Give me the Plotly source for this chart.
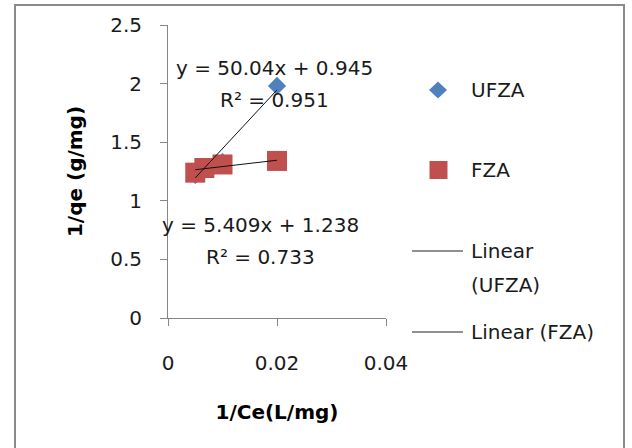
import plotly.graph_objects as go

# Reciprocal (Langmuir-type) data for the two adsorbents
inv_ce = [0.005, 0.00667, 0.01, 0.02]          # 1/Ce (L/mg)
ufza_inv_qe = [1.22, 1.26, 1.33, 1.98]         # 1/qe (g/mg), UFZA
fza_inv_qe = [1.24, 1.28, 1.31, 1.34]          # 1/qe (g/mg), FZA

# Linear fits as reported on the chart
ufza_fit = {"slope": 50.04, "intercept": 0.945, "r2": 0.951}
fza_fit = {"slope": 5.409, "intercept": 1.238, "r2": 0.733}

x_ticks = [0, 0.02, 0.04]
y_ticks = [0, 0.5, 1, 1.5, 2, 2.5]

BLUE = "#4F81BD"
RED = "#C0504D"
FONT = "DejaVu Sans"
TXT = "#1a1a1a"

W, H = 632, 448
M = dict(l=168, r=246, t=25, b=130)
PW = W - M["l"] - M["r"]
PH = H - M["t"] - M["b"]


def px(xp):
    """Horizontal pixel -> paper fraction."""
    return (xp - M["l"]) / PW


def py(yp):
    """Vertical pixel (from top) -> paper fraction."""
    return (H - M["b"] - yp) / PH


fit_x = [min(inv_ce), max(inv_ce)]


def fit_line(fit):
    return [fit["slope"] * v + fit["intercept"] for v in fit_x]


fig = go.Figure()
fig.add_trace(go.Scatter(
    x=inv_ce, y=ufza_inv_qe, mode="markers", name="UFZA",
    marker=dict(symbol="diamond", size=14, color=BLUE, line=dict(width=0)),
))
fig.add_trace(go.Scatter(
    x=inv_ce, y=fza_inv_qe, mode="markers", name="FZA",
    marker=dict(symbol="square", size=20, color=RED, line=dict(width=0)),
))
fig.add_trace(go.Scatter(
    x=fit_x, y=fit_line(ufza_fit), mode="lines", name="Linear (UFZA)",
    line=dict(color="#111111", width=1),
))
fig.add_trace(go.Scatter(
    x=fit_x, y=fit_line(fza_fit), mode="lines", name="Linear (FZA)",
    line=dict(color="#111111", width=1),
))


def eq_text(fit):
    return f"y = {fit['slope']:g}x + {fit['intercept']:g}"


labels = [
    (eq_text(ufza_fit), 0.01963, 2.133),
    (f"R² = {ufza_fit['r2']:g}", 0.01963, 1.86),
    (eq_text(fza_fit), 0.01697, 0.794),
    (f"R² = {fza_fit['r2']:g}", 0.01690, 0.52),
]
for text, ax_x, ax_y in labels:
    fig.add_annotation(x=ax_x, y=ax_y, xref="x", yref="y", text=text,
                       showarrow=False, font=dict(size=20, color=TXT, family=FONT))

# Legend (drawn beside the plot area)
legend_font = dict(size=20, color=TXT, family=FONT)
fig.add_shape(type="path", xref="paper", yref="paper",
              xsizemode="pixel", ysizemode="pixel",
              xanchor=px(438), yanchor=py(90),
              path="M -9 0 L 0 8.5 L 9 0 L 0 -8.5 Z",
              fillcolor=BLUE, line=dict(width=0))
fig.add_shape(type="rect", xref="paper", yref="paper",
              xsizemode="pixel", ysizemode="pixel",
              xanchor=px(438.5), yanchor=py(170),
              x0=-9, x1=9, y0=-9, y1=9,
              fillcolor=RED, line=dict(width=0))
for yl in (251, 332):
    fig.add_shape(type="line", xref="paper", yref="paper",
                  x0=px(412), x1=px(463), y0=py(yl), y1=py(yl),
                  line=dict(color="#222222", width=1.2))
legend_text = [("UFZA", 90), ("FZA", 170), ("Linear", 251), ("(UFZA)", 285),
               ("Linear (FZA)", 332)]
for text, yl in legend_text:
    fig.add_annotation(x=px(469), y=py(yl), xref="paper", yref="paper",
                       xanchor="left", yanchor="middle", text=text,
                       showarrow=False, font=legend_font)

# Chart frame
fig.add_shape(type="rect", xref="paper", yref="paper",
              x0=px(15), x1=px(624), y0=py(470), y1=py(5),
              line=dict(color="#8a8a8a", width=2))

axis_common = dict(
    showgrid=False, zeroline=False, showline=True,
    linecolor="#868686", linewidth=1, ticks="outside", ticklen=7,
    tickcolor="#868686", tickfont=dict(size=20, color=TXT, family=FONT),
)

fig.update_xaxes(
    range=[0, 0.04], tickvals=x_ticks, ticktext=["0", "0.02", "0.04"],
    ticklabelstandoff=20,
    title=dict(text="<b>1/Ce(L/mg)</b>", font=dict(size=20, color="#000", family=FONT),
               standoff=30),
    **axis_common,
)
fig.update_yaxes(
    range=[0, 2.5], tickvals=y_ticks, ticktext=["0", "0.5", "1", "1.5", "2", "2.5"],
    ticklabelstandoff=14,
    title=dict(text="<b>1/qe (g/mg)</b>", font=dict(size=20, color="#000", family=FONT),
               standoff=22),
    **axis_common,
)

fig.update_layout(
    width=W, height=H,
    margin=M,
    paper_bgcolor="white", plot_bgcolor="white",
    font=dict(family=FONT, size=20, color=TXT),
    showlegend=False,
)

fig.write_html("out.html")
